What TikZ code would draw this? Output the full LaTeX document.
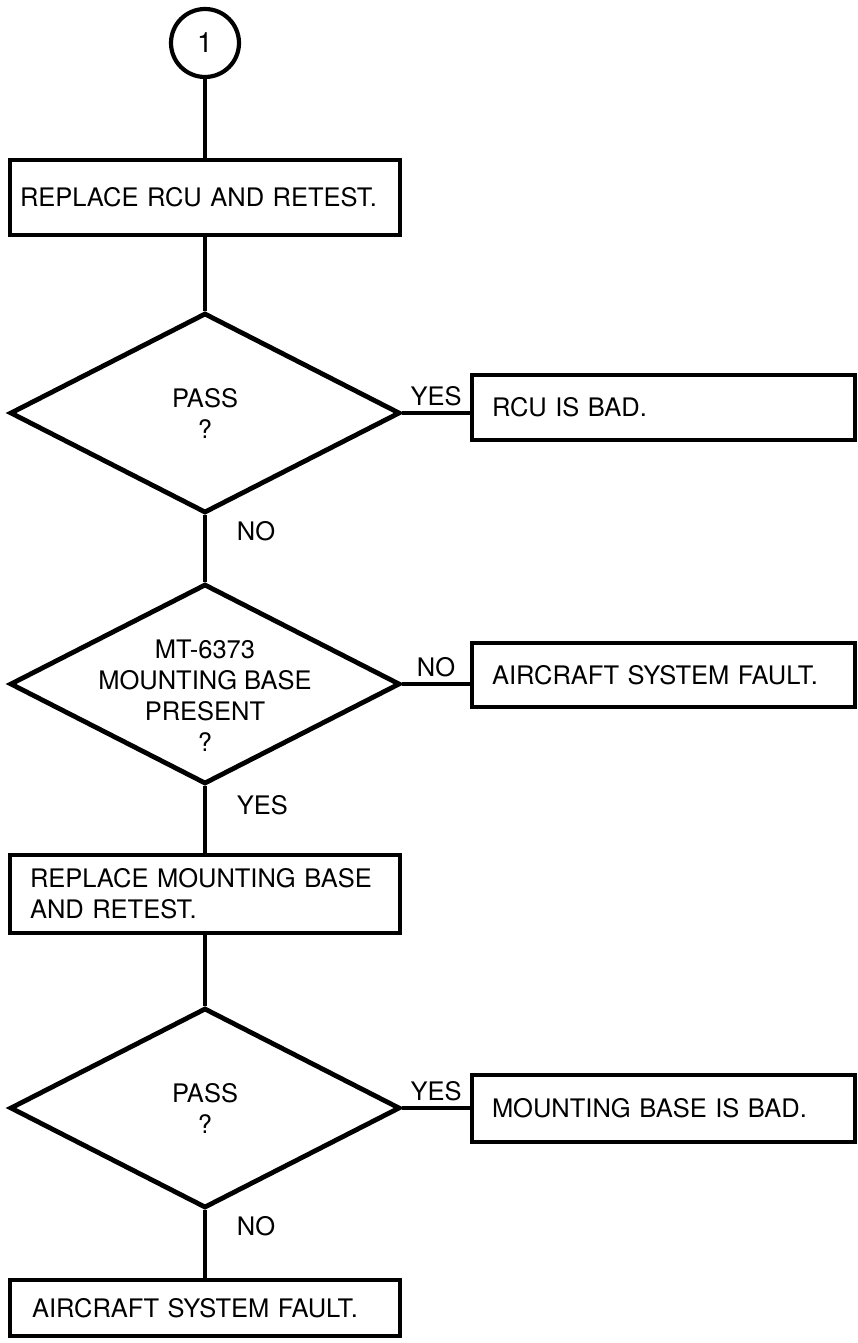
\documentclass[tikz,border=0pt]{standalone}
\usepackage{fontspec}
\setmainfont{TeX Gyre Heros}
\usetikzlibrary{shapes.geometric,positioning}

\begin{document}
\begin{tikzpicture}[x=1pt,y=-1pt,
    every node/.style={font=\fontsize{25.5}{31}\selectfont},
    flowline/.style={line width=3.2pt},
    actbox/.style={draw,line width=4.4pt,align=left,inner xsep=20pt,text width=350pt,minimum height=#1},
    sidebox/.style={draw,line width=4.4pt,align=left,inner xsep=20pt,text width=343pt,minimum height=#1},
    decision/.style={draw,shape=diamond,line width=4.8pt,minimum width=390pt,minimum height=200pt,inner sep=0pt},
    qtext/.style={align=center}]
        \useasboundingbox (0,0) rectangle (858,1343);
        \node[draw,circle,line width=4.2pt,minimum size=68pt,inner sep=0pt,font=\fontsize{28}{31}\selectfont] (start) at (205,43) {1};
        \node[actbox=75pt,inner xsep=10pt,text width=370pt] (replrcu) at (205,197.5) {REPLACE RCU AND RETEST.};
        \node[decision,label={[qtext]center:PASS\\?}] (pass1) at (205,413) {};
        \node[sidebox=65pt] (rcubad) at (663.5,407.5) {RCU IS BAD.};
        \node[decision,label={[qtext,yshift=-12pt]center:MT-6373\\MOUNTING BASE\\PRESENT\\?}] (mbase) at (205,684) {};
        \node[sidebox=64pt] (acfault1) at (663.5,675) {AIRCRAFT SYSTEM FAULT.};
        \node[actbox=78pt] (replmb) at (205,894) {REPLACE MOUNTING BASE\\AND RETEST.};
        \node[decision,label={[qtext]center:PASS\\?}] (pass2) at (205,1108) {};
        \node[sidebox=67pt] (mbbad) at (663.5,1108.5) {MOUNTING BASE IS BAD.};
        \node[actbox=56pt,inner xsep=22pt,text width=346pt] (acfault2) at (205,1308) {AIRCRAFT SYSTEM FAULT.};
        \draw[flowline] (start.south) -- (replrcu.north);
        \draw[flowline] (replrcu.south) -- (pass1.north);
        \draw[flowline] (pass1.east) -- (pass1.east -| rcubad.west) node[midway,above=2pt] {YES};
        \draw[flowline] (pass1.south) -- (mbase.north) node[pos=0.24,right=27pt] {NO};
        \draw[flowline] (mbase.east) -- (mbase.east -| acfault1.west) node[midway,above=2pt] {NO};
        \draw[flowline] (mbase.south) -- (replmb.north) node[pos=0.28,right=27pt] {YES};
        \draw[flowline] (replmb.south) -- (pass2.north);
        \draw[flowline] (pass2.east) -- (pass2.east -| mbbad.west) node[midway,above=2pt] {YES};
        \draw[flowline] (pass2.south) -- (acfault2.north) node[pos=0.24,right=27pt] {NO};
      \end{tikzpicture}
\end{document}
